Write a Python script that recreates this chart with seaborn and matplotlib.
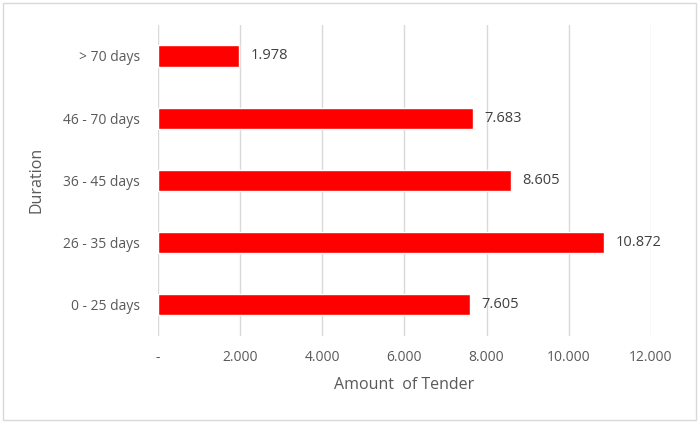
import matplotlib
matplotlib.use("Agg")
import matplotlib.pyplot as plt
import matplotlib.ticker as mticker
from matplotlib.patches import Rectangle
import pandas as pd
import seaborn as sns

durations = ["> 70 days", "46 - 70 days", "36 - 45 days", "26 - 35 days", "0 - 25 days"]
amounts = [1978, 7683, 8605, 10872, 7605]
x_ticks = [0, 2000, 4000, 6000, 8000, 10000, 12000]


def fmt_dot(v, pos=None):
    if v == 0:
        return "-"
    return "{:,.0f}".format(v).replace(",", ".")


sns.set_style("white")
plt.rcParams['font.family'] = ['Open Sans', 'DejaVu Sans']

df = pd.DataFrame({'Duration': durations, 'Amount': amounts})

fig = plt.figure(figsize=(6.99, 4.22), dpi=100)
ax = fig.add_axes([0.226, 0.204, 0.705, 0.737])
sns.barplot(data=df, x='Amount', y='Duration', order=durations,
            color='#ff0000', saturation=1, width=0.34, ax=ax)

ax.set_xlim(0, 12000)
ax.set_ylim(4.5, -0.5)
ax.set_xticks(x_ticks)
ax.xaxis.set_major_formatter(mticker.FuncFormatter(fmt_dot))
ax.grid(axis='x', color='#d9d9d9', linewidth=1)
ax.set_axisbelow(True)
for s in ax.spines.values():
    s.set_visible(False)
ax.tick_params(axis='both', length=0, labelsize=10, colors='#595959')
ax.tick_params(axis='y', pad=13)
ax.tick_params(axis='x', pad=10)

ax.set_xlabel('Amount  of Tender', fontsize=11.5, color='#595959', labelpad=9)
ax.set_ylabel('Duration', fontsize=11.5, color='#595959', labelpad=13)

for i, v in enumerate(amounts):
    ax.text(v + 270, i, fmt_dot(v), va='center', ha='left',
            fontsize=10.5, color='#404040')

fig.patches.append(Rectangle((0.004, 0.004), 0.992, 0.99, transform=fig.transFigure,
                             fill=False, edgecolor='#d9d9d9', linewidth=1))

fig.savefig('out.png', dpi=100)
